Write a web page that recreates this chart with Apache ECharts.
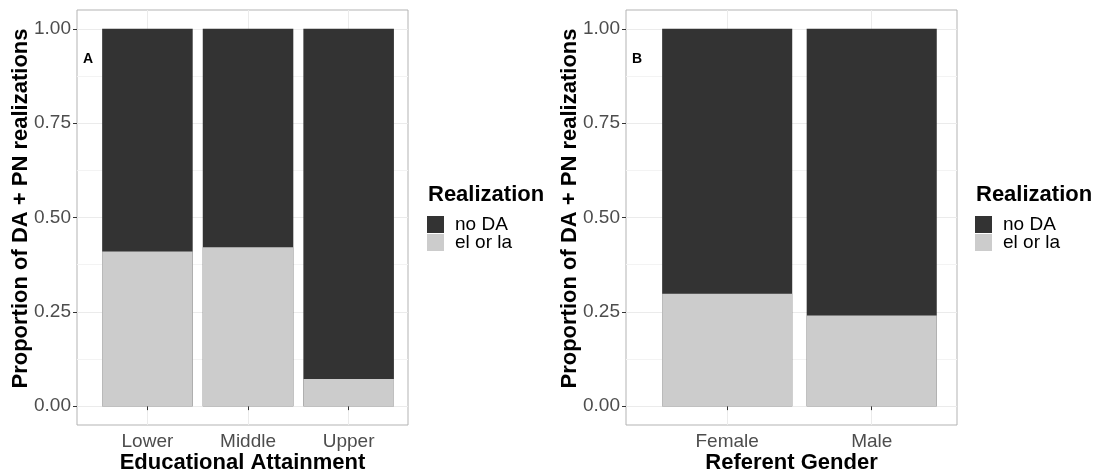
<!DOCTYPE html>
<html><head><meta charset="utf-8">
<script src="https://cdn.jsdelivr.net/npm/echarts@6/dist/echarts.min.js"></script>
<style>html,body{margin:0;padding:0;background:#fff}#c{width:1093px;height:471px}</style>
</head><body><div id="c"></div>
<script>
// ---- data ----
const categoriesA = ['Lower', 'Middle', 'Upper'];
const elOrLaA = [0.410, 0.421, 0.072];
const noDaA = [0.590, 0.579, 0.928];
const categoriesB = ['Female', 'Male'];
const elOrLaB = [0.298, 0.240];
const noDaB = [0.702, 0.760];
const yTicks = [0, 0.25, 0.5, 0.75, 1];
const yMinorTicks = [0.125, 0.375, 0.625, 0.875];
const legendNames = ['no DA', 'el or la'];
const legendTitle = 'Realization';
const xTitleA = 'Educational Attainment';
const xTitleB = 'Referent Gender';
const yTitle = 'Proportion of DA + PN realizations';
const panelTags = ['A', 'B'];

// ---- styles ----
const FONT = '"Liberation Sans", Arial, Helvetica, sans-serif';
const DARK = '#333333', LIGHT = '#cccccc', GRIDC = '#ebebeb', MINORC = '#f3f3f3';
const TICKC = '#4d4d4d';

function xAxis(gi, cats, name) {
  const vals = cats.map((_, i) => i + 1);
  return {
    type: 'value', gridIndex: gi, min: 0.3, max: cats.length + 0.59,
    axisLine: { show: false },
    axisTick: { show: true, customValues: vals, length: 4, lineStyle: { color: '#333' } },
    axisLabel: { customValues: vals, formatter: v => cats[Math.round(v) - 1], fontSize: 19, color: TICKC, fontFamily: FONT, margin: 7 },
    splitLine: { show: true, lineStyle: { color: GRIDC, width: 1 } },
    name: name, nameLocation: 'middle', nameGap: 27, nameMoveOverlap: false,
    nameTextStyle: { fontSize: 22, fontWeight: 'bold', color: '#000', fontFamily: FONT }
  };
}
function yMain(gi) {
  return {
    type: 'value', gridIndex: gi, min: -0.05, max: 1.05, position: 'left',
    axisLine: { show: false },
    axisTick: { show: true, customValues: yTicks, length: 4, lineStyle: { color: '#333' } },
    axisLabel: { customValues: yTicks, formatter: v => v.toFixed(2), fontSize: 19, color: TICKC, fontFamily: FONT, margin: 6 },
    splitLine: { show: true, lineStyle: { color: GRIDC, width: 1 } },
    name: yTitle, nameLocation: 'middle', nameGap: 45, nameRotate: 90, nameMoveOverlap: false,
    nameTextStyle: { fontSize: 22, fontWeight: 'bold', color: '#000', fontFamily: FONT, padding: [0, 0, 0, 18] }
  };
}
function yMinor(gi) {
  return {
    type: 'value', gridIndex: gi, min: -0.05, max: 1.05, position: 'right',
    axisLine: { show: false },
    axisTick: { show: false, customValues: yMinorTicks },
    axisLabel: { show: false, customValues: yMinorTicks },
    splitLine: { show: true, lineStyle: { color: MINORC, width: 1 } }
  };
}
// "fill" position: the dark segment spans from the light one up to the total
function bar(gi, name, vals, color, z) {
  return {
    type: 'bar', name: name, xAxisIndex: gi, yAxisIndex: gi * 2, z: z,
    barWidth: '90%', barGap: '-100%', silent: true, emphasis: { disabled: true },
    data: vals.map((v, i) => [i + 1, v]),
    itemStyle: { color: color }
  };
}
const totals = (a, b) => a.map((v, i) => v + b[i]);
function legend(left) {
  return {
    data: legendNames, orient: 'vertical', left: left, top: 215, padding: 0,
    itemWidth: 17, itemHeight: 17, itemGap: -1, icon: 'rect', selectedMode: false,
    textStyle: { fontSize: 19, lineHeight: 17, color: '#000', fontFamily: FONT, padding: [0, 0, 0, 6] }
  };
}
function txt(x, y, text, size) {
  return { type: 'text', x: x, y: y, silent: true,
    style: { text: text, fontSize: size, fontWeight: 'bold', fill: '#000', fontFamily: FONT, textVerticalAlign: 'middle' } };
}

const chart = echarts.init(document.getElementById('c'), null, { renderer: 'canvas' });
const gridBase = { top: 10, width: 331, height: 415, show: true, borderColor: '#b3b3b3', borderWidth: 1,
  backgroundColor: 'transparent', containLabel: false, outerBoundsMode: 'none' };
chart.setOption({
  animation: false,
  backgroundColor: '#fff',
  grid: [
    Object.assign({ left: 77 }, gridBase),
    Object.assign({ left: 626 }, gridBase)
  ],
  xAxis: [xAxis(0, categoriesA, xTitleA), xAxis(1, categoriesB, xTitleB)],
  yAxis: [yMain(0), yMinor(0), yMain(1), yMinor(1)],
  legend: [legend(427), legend(975)],
  series: [
    bar(0, legendNames[0], totals(elOrLaA, noDaA), DARK, 2),
    bar(0, legendNames[1], elOrLaA, LIGHT, 3),
    bar(1, legendNames[0], totals(elOrLaB, noDaB), DARK, 2),
    bar(1, legendNames[1], elOrLaB, LIGHT, 3)
  ],
  graphic: [
    txt(428, 195, legendTitle, 22),
    txt(976, 195, legendTitle, 22),
    txt(83, 59, panelTags[0], 14),
    txt(632, 59, panelTags[1], 14)
  ]
});
</script>
</body></html>
